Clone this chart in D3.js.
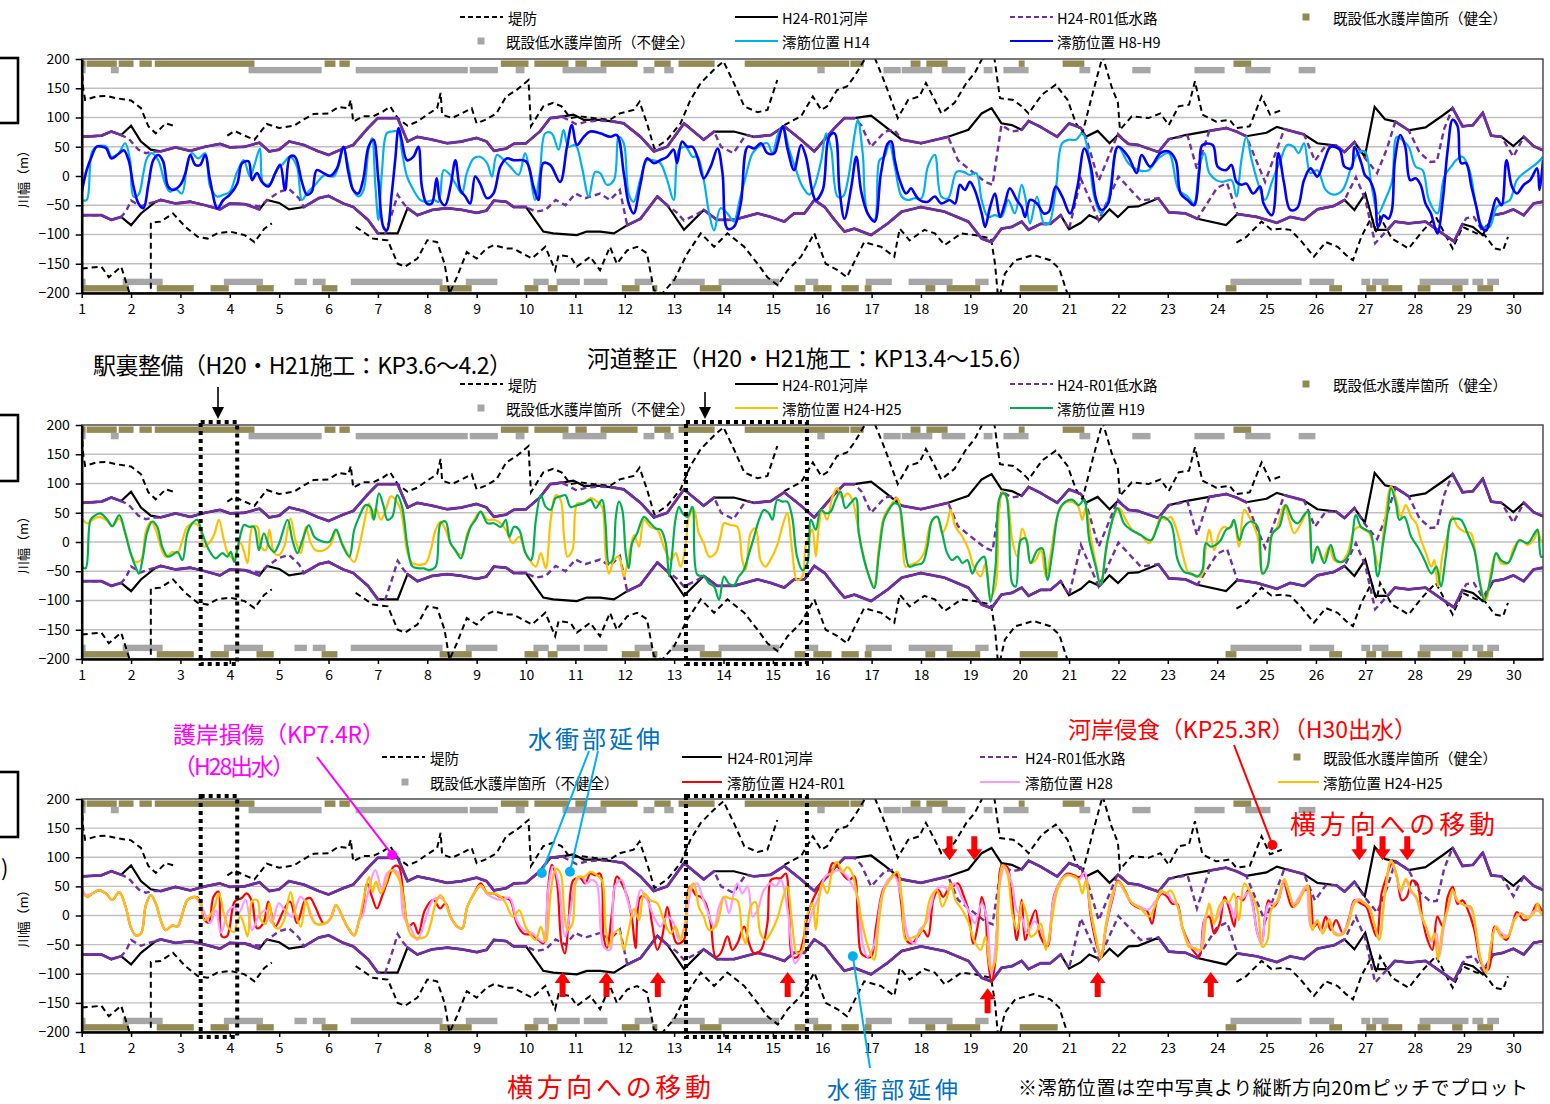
<!DOCTYPE html>
<html>
<head>
<meta charset="utf-8">
<script src="https://cdn.jsdelivr.net/npm/d3@7"></script>
<style>
  body { margin: 0; background: #fff; }
  svg { display: block; }
  text { font-family: "Noto Sans CJK JP", "Noto Sans", sans-serif; }
</style>
</head>
<body>
<svg id="chart" width="1550" height="1104"></svg>
<script>
// ---- data (KP, metres) ----
const kpTicks = d3.range(1, 31);
const widthTicks = d3.range(-200, 201, 50);

const leveeUpper = [[1.0,190],[1.03,150],[1.07,130],[1.3,136],[1.5,137],[1.7,133],[2.0,129],[2.2,116],[2.35,85],[2.5,73],[2.7,90],[2.9,85], null,
  [3.95,69],[4.1,77],[4.3,69],[4.5,62],[4.6,73],[4.75,89],[5.0,82],[5.3,86],[5.5,97],[5.7,106],[6.0,107],[6.2,118],[6.4,116],[6.45,130],[6.5,93],[6.7,102],[6.9,102],[7.1,110],[7.25,119],[7.4,99],[7.6,86],[7.8,93],[8.0,105],[8.2,116],[8.27,142],[8.3,105],[8.5,99],[8.7,107],[8.9,116],[9.0,90],[9.2,97],[9.4,107],[9.6,136],[9.81,147],[10.05,164],[10.1,85],[10.35,119],[10.55,125],[10.72,119],[10.9,99],[11.1,102],[11.37,99],[11.7,96],[11.9,107],[12.18,113],[12.3,127],[12.45,90],[12.6,47],[12.86,62],[13.13,90],[13.33,130],[13.54,159],[13.81,182],[14.0,196],[14.21,159],[14.42,119],[14.69,109],[14.89,113],[15.09,164], null,
  [15.23,87],[15.57,102],[15.81,136],[15.98,113],[16.1,119],[16.3,147],[16.5,153],[16.65,170],[16.9,205],[17.05,205],[17.27,159],[17.53,99],[17.74,130],[17.97,136],[18.1,159],[18.28,130],[18.41,107],[18.68,125],[18.92,159],[19.09,176],[19.23,199],[19.35,230],[19.49,200],[19.6,133],[19.87,130],[20.04,119],[20.18,107],[20.45,139],[20.73,156],[20.97,130],[21.14,90],[21.27,73],[21.48,142],[21.68,205],[21.86,153],[21.99,125],[22.03,79],[22.27,102],[22.61,99],[22.85,107],[23.02,87],[23.22,119],[23.43,122],[23.55,162],[23.7,105],[23.98,93],[24.25,96],[24.39,82],[24.66,85],[24.9,136],[25.07,105],[25.31,113]];

const leveeLower = [[1.0,-158],[1.4,-155],[1.55,-173],[1.8,-155],[1.95,-195],[2.0,-210], null,
  [2.4,-210],[2.4,-80],[2.6,-78],[2.85,-64],[3.1,-87],[3.35,-104],[3.55,-107],[3.75,-98],[4.0,-95],[4.3,-101],[4.5,-113],[4.7,-90],[4.85,-81], null,
  [6.55,-87],[6.9,-107],[7.2,-110],[7.4,-150],[7.55,-155],[7.8,-141],[8.0,-110],[8.2,-113],[8.35,-150],[8.45,-201],[8.6,-173],[8.8,-130],[9.0,-141],[9.2,-124],[9.35,-118],[9.6,-124],[9.74,-124],[10.12,-141],[10.39,-121],[10.59,-161],[10.66,-135],[10.9,-138],[11.03,-155],[11.3,-138],[11.5,-161],[11.7,-121],[11.84,-150],[12.05,-127],[12.25,-121],[12.45,-132],[12.59,-195],[12.76,-201],[13.0,-178],[13.27,-132],[13.54,-98],[13.81,-121],[14.08,-98],[14.42,-121],[14.69,-150],[14.89,-173],[15.1,-187],[15.3,-161],[15.57,-138],[15.84,-98],[16.07,-150],[16.31,-161],[16.5,-173],[16.7,-138],[16.85,-113],[17.19,-121],[17.46,-138],[17.57,-90],[17.77,-110],[18.07,-92],[18.28,-98],[18.48,-118],[18.82,-98],[19.09,-101],[19.42,-107],[19.5,-150],[19.57,-215],[19.7,-167],[19.91,-144],[20.04,-141],[20.28,-135],[20.62,-144],[20.8,-158],[21.0,-210], null,
  [24.39,-114],[24.59,-104],[24.9,-78],[25.1,-92],[25.31,-90],[25.48,-92],[25.69,-110],[25.96,-138],[26.2,-113],[26.44,-121],[26.61,-135],[26.75,-144],[26.92,-104],[27.13,-70],[27.23,-98],[27.3,-70],[27.54,-107],[27.88,-124],[28.15,-95],[28.43,-70],[28.77,-124],[28.97,-87],[29.25,-98],[29.42,-101],[29.62,-124],[29.79,-127],[29.89,-104]];

const bankUpper = [[1.0,67],[1.4,69],[1.6,76],[1.8,70],[2.0,86],[2.2,59],[2.4,45],[2.6,42],[2.9,49],[3.2,43],[3.5,50],[3.8,55],[4.0,49],[4.3,50],[4.6,57],[4.8,42],[5.0,45],[5.2,59],[5.5,53],[5.8,42],[6.0,36],[6.3,47],[6.5,53],[6.8,82],[7.0,99],[7.4,99],[7.6,59],[7.8,67],[8.1,62],[8.4,56],[8.7,59],[9.0,65],[9.2,59],[9.35,43],[9.6,47],[9.75,55],[10.0,56],[10.28,76],[10.49,99],[10.76,102],[10.96,105],[11.17,96],[11.5,96],[11.78,93],[11.98,90],[12.32,67],[12.59,42],[12.86,50],[13.2,90],[13.6,62],[13.81,76],[14.21,76],[14.62,67],[14.96,70],[15.23,85],[15.57,62],[15.84,42],[16.25,82],[16.45,99],[16.65,99],[16.99,103],[17.27,85],[17.61,62],[18.0,56],[18.55,67],[18.96,79],[19.23,107],[19.43,116],[19.63,90],[19.84,87],[20.04,79],[20.18,94],[20.42,84],[20.76,67],[21.0,90],[21.24,82],[21.34,67],[21.58,77],[21.82,56],[21.99,70],[22.2,55],[22.4,53],[22.81,41],[23.02,63],[23.36,70],[23.84,77],[24.18,82],[24.39,76],[24.59,68],[25.0,74],[25.21,84],[25.41,79],[25.76,71],[26.03,56],[26.41,52],[26.58,41],[26.78,58],[26.99,33],[27.19,118],[27.4,97],[27.61,93],[27.88,78],[28.22,83],[28.56,103],[28.77,116],[28.97,85],[29.18,87],[29.38,108],[29.55,69],[29.76,67],[30.0,51],[30.21,67],[30.41,51],[30.6,44]];

const bankLower = [[1.0,-67],[1.4,-67],[1.6,-75],[1.8,-70],[2.0,-84],[2.2,-64],[2.5,-44],[2.6,-41],[2.9,-47],[3.2,-44],[3.5,-50],[3.8,-57],[4.0,-47],[4.3,-48],[4.6,-57],[4.75,-41],[5.0,-46],[5.2,-57],[5.5,-53],[5.8,-38],[6.0,-34],[6.3,-47],[6.5,-53],[6.8,-75],[7.0,-98],[7.4,-98],[7.6,-55],[7.8,-67],[8.1,-58],[8.4,-55],[8.7,-58],[9.0,-63],[9.2,-59],[9.35,-42],[9.6,-44],[9.75,-53],[10.0,-53],[10.35,-95],[10.55,-98],[11.03,-101],[11.23,-95],[11.5,-95],[11.78,-98],[12.05,-84],[12.32,-73],[12.66,-35],[12.86,-50],[13.2,-92],[13.6,-58],[13.87,-75],[14.21,-75],[14.69,-64],[14.96,-70],[15.23,-78],[15.43,-64],[15.64,-64],[15.84,-41],[16.05,-53],[16.25,-75],[16.45,-95],[16.65,-90],[16.99,-101],[17.33,-81],[17.61,-61],[18.0,-53],[18.48,-61],[18.96,-78],[19.23,-107],[19.43,-113],[19.63,-90],[19.84,-87],[20.04,-78],[20.18,-92],[20.42,-82],[20.62,-82],[20.83,-67],[21.0,-91],[21.24,-80],[21.41,-67],[21.62,-75],[21.82,-57],[21.99,-70],[22.2,-53],[22.4,-52],[22.81,-38],[23.02,-62],[23.36,-64],[23.6,-73],[24.18,-84],[24.41,-65],[24.8,-70],[25.21,-80],[25.48,-70],[25.76,-75],[26.03,-57],[26.37,-51],[26.58,-41],[26.78,-58],[27.0,-30],[27.2,-92],[27.45,-92],[27.6,-78],[27.88,-81],[28.22,-78],[28.56,-98],[28.8,-112],[28.97,-82],[29.18,-87],[29.38,-101],[29.59,-67],[29.79,-64],[30.0,-57],[30.21,-67],[30.41,-47],[30.6,-44]];

// low-water channel: same as bank except these stretches
const lowUpperStretches = [
  [[1.8,70],[1.95,64],[2.15,45],[2.3,39],[2.45,42],[2.6,42]],
  [[10.76,100],[11.03,88],[11.23,93],[11.5,95],[11.78,93]],
  [[13.81,76],[13.95,50],[14.2,39],[14.45,70],[14.62,67]],
  [[16.65,99],[16.79,87],[16.99,50],[17.27,76],[17.46,79],[17.61,62]],
  [[18.55,67],[18.75,27],[19.0,10],[19.3,-10],[19.45,-15],[19.63,87],[19.84,76],[20.04,79]],
  [[21.24,82],[21.34,67],[21.6,-8],[21.99,72]],
  [[23.02,63],[23.4,69],[23.59,12],[23.84,77]],
  [[24.59,68],[24.97,-10],[25.36,80],[25.41,79]],
  [[25.76,71],[25.98,26],[26.2,52],[26.41,52]],
  [[26.78,58],[27.0,30],[27.24,5],[27.44,47],[27.61,93]],
  [[27.88,78],[28.1,40],[28.32,24],[28.45,25],[28.6,81],[28.77,116]],
  [[29.76,67],[30.0,33],[30.21,67]]
];
const lowLowerStretches = [
  [[1.8,-70],[1.9,-60],[2.0,-42],[2.2,-52],[2.4,-46],[2.5,-44]],
  [[4.6,-52],[4.75,-42],[5.0,-27],[5.2,-22],[5.4,-38],[5.5,-53]],
  [[7.0,-98],[7.15,-98],[7.3,-60],[7.4,-32],[7.5,-45],[7.6,-55]],
  [[10.0,-53],[10.2,-61],[10.4,-58],[10.6,-41],[10.8,-50],[11.0,-30],[11.2,-38],[11.5,-30],[11.7,-41],[11.9,-24],[12.05,-84]],
  [[12.86,-50],[13.05,-62],[13.2,-76],[13.45,-66],[13.6,-58]],
  [[20.83,-67],[21.0,-91],[21.24,-5],[21.6,-76],[22.0,-1],[22.45,-42],[22.81,-38]],
  [[23.6,-73],[24.0,-20],[24.2,-12],[24.41,-65]],
  [[26.58,-41],[26.81,-2],[27.0,-40],[27.2,-115],[27.45,-92]],
  [[28.97,-82],[29.05,-72],[29.2,-70],[29.38,-95],[29.59,-67]]
];

// existing low-water revetments, [from KP, to KP]
const healthyTop = [[1.0,1.08],[1.1,1.71],[1.75,2.05],[2.17,2.42],[2.48,4.5],[5.92,6.14],[6.22,6.43],[9.49,10.05],[10.17,10.86],[11.0,11.23],[11.51,12.26],[12.6,12.93],[13.09,13.82],[14.43,16.55],[16.57,16.84],[17.79,17.99],[18.11,18.54],[19.98,20.1],[20.87,21.31],[24.33,24.69]];
const damagedTop = [[1.0,1.08],[1.59,1.75],[4.38,5.86],[6.55,8.82],[8.86,9.43],[9.79,9.97],[10.74,11.63],[12.38,12.6],[12.8,12.99],[15.9,16.05],[17.24,17.59],[17.61,18.23],[18.42,18.9],[19.27,19.45],[19.67,20.18],[21.21,21.43],[22.28,22.65],[23.54,24.15],[24.57,25.08],[25.65,25.99]];
const damagedBottom = [[1.0,1.08],[1.83,2.64],[3.88,4.67],[5.31,5.56],[5.68,5.94],[6.45,8.31],[8.78,9.42],[10.15,10.46],[10.62,11.09],[11.17,11.65],[12.2,12.56],[12.95,13.62],[13.9,15.13],[15.66,15.92],[16.88,17.41],[17.75,18.64],[19.1,19.37],[24.27,25.71],[25.87,26.37],[26.92,27.1],[27.14,27.47],[28.1,29.09],[29.17,29.39],[29.47,29.71]];
const healthyBottom = [[1.0,1.95],[2.52,3.27],[3.61,3.98],[4.54,4.89],[5.86,6.18],[8.25,8.9],[9.97,10.25],[10.44,10.64],[11.94,12.3],[12.56,12.66],[13.52,13.96],[15.44,15.66],[15.82,16.19],[16.39,16.74],[16.86,17.0],[18.09,18.29],[18.52,19.2],[20.0,20.77],[24.17,24.39],[26.27,26.53],[27.02,27.22],[27.33,27.75],[28.06,28.32],[28.76,28.97],[29.27,29.59]];
const revetmentLevel = { healthyTop: 192, damagedTop: 181, damagedBottom: -181, healthyBottom: -192 };

// thalweg positions
const thalwegH8H9 = [[1.0,-28],[1.1,10],[1.2,33],[1.3,50],[1.4,50],[1.5,47],[1.6,30],[1.75,38],[1.85,44],[1.95,27],[2.05,-18],[2.15,-47],[2.25,-55],[2.35,-15],[2.45,27],[2.55,36],[2.65,25],[2.75,-18],[2.85,-24],[3.0,-15],[3.1,5],[3.2,36],[3.3,19],[3.4,19],[3.5,36],[3.6,-7],[3.75,-55],[3.87,-41],[4.0,-32],[4.15,-13],[4.25,22],[4.38,25],[4.45,-7],[4.55,5],[4.65,-10],[4.78,-18],[4.92,5],[5.02,19],[5.12,-24],[5.22,33],[5.32,33],[5.46,-10],[5.56,-32],[5.66,-27],[5.76,10],[5.9,5],[6.03,0],[6.17,13],[6.3,50],[6.4,7],[6.5,-24],[6.6,-30],[6.7,-7],[6.81,50],[6.91,62],[7.01,-7],[7.11,-87],[7.18,-93],[7.28,-30],[7.35,27],[7.42,82],[7.48,62],[7.59,27],[7.72,33],[7.82,50],[7.89,-18],[7.99,-47],[8.09,-47],[8.19,-4],[8.26,-41],[8.36,-50],[8.47,-18],[8.57,27],[8.67,-24],[8.77,-35],[8.87,-47],[8.97,-1],[9.07,-13],[9.21,-38],[9.34,-30],[9.48,16],[9.61,30],[9.75,27],[10.0,25],[10.15,-18],[10.25,-41],[10.35,22],[10.49,19],[10.69,-10],[10.83,50],[10.93,87],[11.03,53],[11.17,67],[11.3,76],[11.5,73],[11.71,67],[11.84,70],[11.98,5],[12.08,-47],[12.18,-64],[12.32,-13],[12.45,30],[12.59,22],[12.72,27],[12.86,33],[12.99,45],[13.06,22],[13.16,59],[13.27,50],[13.37,50],[13.47,33],[13.6,-4],[13.74,16],[13.88,47],[13.98,5],[14.08,-90],[14.21,-87],[14.35,-47],[14.49,50],[14.62,47],[14.76,56],[14.89,39],[15.03,39],[15.1,56],[15.2,85],[15.3,45],[15.43,10],[15.57,53],[15.67,33],[15.81,-30],[15.87,-41],[16.01,-24],[16.14,67],[16.25,73],[16.35,-24],[16.45,-73],[16.59,-18],[16.69,33],[16.79,-27],[16.92,-64],[17.06,-78],[17.19,5],[17.33,56],[17.4,59],[17.47,27],[17.57,-7],[17.7,-30],[17.8,-21],[17.87,-30],[17.97,-41],[18.14,-44],[18.28,-35],[18.41,-47],[18.58,-41],[18.69,-47],[18.79,-15],[18.89,-24],[18.99,-10],[19.09,-24],[19.23,-64],[19.3,-87],[19.4,-53],[19.5,-30],[19.6,-70],[19.7,-47],[19.8,-21],[19.94,-41],[20.04,-53],[20.11,-70],[20.21,-41],[20.35,-47],[20.49,-64],[20.59,-61],[20.73,-18],[20.86,-35],[21.02,-64],[21.17,-18],[21.31,47],[21.44,16],[21.55,-41],[21.65,-58],[21.79,-47],[21.99,50],[22.2,33],[22.37,5],[22.47,36],[22.64,16],[22.85,39],[23.02,42],[23.16,27],[23.26,-30],[23.4,-41],[23.53,-50],[23.64,10],[23.7,53],[23.91,53],[24.01,16],[24.18,10],[24.29,19],[24.39,-10],[24.49,-15],[24.59,-13],[24.73,-30],[24.87,-18],[24.94,-47],[25.11,-67],[25.24,39],[25.35,-10],[25.48,-58],[25.62,-55],[25.76,-7],[25.89,13],[26.03,-1],[26.17,27],[26.3,50],[26.48,45],[26.58,16],[26.72,13],[26.78,50],[26.92,22],[26.99,2],[27.09,-7],[27.19,-30],[27.26,-87],[27.37,-67],[27.47,-73],[27.54,-58],[27.6,27],[27.71,70],[27.81,50],[27.91,-7],[28.02,-4],[28.12,-15],[28.22,-47],[28.33,-64],[28.46,-98],[28.57,-41],[28.67,45],[28.77,96],[28.87,85],[28.94,22],[29.04,22],[29.15,-18],[29.25,-53],[29.35,-87],[29.45,-93],[29.56,-64],[29.66,-38],[29.76,-50],[29.86,27],[29.97,-18],[30.07,-30],[30.21,-15],[30.34,-7],[30.48,13],[30.53,-24],[30.6,27]];

const thalwegH14 = [[1.0,-41],[1.1,-41],[1.2,39],[1.3,50],[1.5,50],[1.6,33],[1.74,38],[1.88,56],[1.98,27],[2.05,-35],[2.15,-32],[2.25,5],[2.32,30],[2.42,39],[2.55,27],[2.69,-13],[2.79,-27],[2.89,-21],[3.03,-30],[3.13,16],[3.23,39],[3.36,30],[3.5,39],[3.6,-18],[3.74,-35],[3.87,-32],[4.0,-27],[4.14,5],[4.28,27],[4.41,-1],[4.51,22],[4.61,47],[4.68,-13],[4.82,-13],[4.95,10],[5.09,22],[5.22,33],[5.36,16],[5.46,-41],[5.56,-30],[5.73,-15],[5.93,2],[6.1,-1],[6.2,16],[6.3,47],[6.41,13],[6.5,-24],[6.61,-35],[6.71,-24],[6.81,45],[6.88,65],[6.95,-18],[7.01,-75],[7.08,5],[7.18,73],[7.28,76],[7.42,76],[7.48,45],[7.59,-1],[7.72,-24],[7.86,-41],[7.99,-44],[8.13,-41],[8.23,-44],[8.33,10],[8.43,5],[8.57,-13],[8.7,-30],[8.8,5],[8.94,30],[9.07,33],[9.21,22],[9.31,-1],[9.41,36],[9.55,27],[9.68,16],[9.85,2],[9.98,39],[10.08,5],[10.18,-41],[10.28,5],[10.39,73],[10.52,73],[10.66,45],[10.76,79],[10.86,50],[11.0,53],[11.13,16],[11.27,-35],[11.4,7],[11.5,5],[11.64,-15],[11.78,-7],[11.88,67],[11.98,56],[12.08,-30],[12.18,-44],[12.32,-4],[12.45,27],[12.59,27],[12.72,22],[12.86,-7],[12.99,-41],[13.1,45],[13.23,50],[13.37,33],[13.47,33],[13.6,-7],[13.71,-64],[13.81,-93],[13.94,-55],[14.08,-64],[14.21,-78],[14.32,-44],[14.45,-1],[14.59,39],[14.76,53],[14.89,56],[14.99,39],[15.1,70],[15.2,85],[15.33,45],[15.47,10],[15.6,-18],[15.74,-32],[15.84,-18],[15.98,27],[16.08,73],[16.18,47],[16.31,-35],[16.42,-35],[16.52,-7],[16.66,73],[16.72,96],[16.82,39],[16.92,-64],[17.06,-75],[17.16,27],[17.26,33],[17.36,56],[17.47,16],[17.61,-35],[17.74,-41],[17.87,-38],[18.01,-38],[18.14,16],[18.28,36],[18.41,-35],[18.55,-38],[18.72,7],[18.86,7],[18.99,2],[19.12,5],[19.23,-41],[19.36,-70],[19.5,-67],[19.63,-70],[19.77,-41],[19.9,-64],[20.04,-15],[20.11,-35],[20.21,-81],[20.35,-35],[20.49,-81],[20.59,-81],[20.73,-24],[20.86,56],[21.0,62],[21.14,62],[21.27,73],[21.38,45],[21.51,-35],[21.65,-64],[21.79,-41],[21.99,50],[22.2,22],[22.4,10],[22.61,10],[22.81,30],[23.02,39],[23.22,-24],[23.4,-35],[23.53,-47],[23.64,16],[23.74,39],[23.84,5],[23.98,-7],[24.11,-10],[24.29,-7],[24.39,-35],[24.49,27],[24.59,67],[24.7,27],[24.83,-13],[24.97,-41],[25.11,-10],[25.28,27],[25.42,53],[25.55,50],[25.65,39],[25.76,56],[25.89,5],[26.03,10],[26.2,-24],[26.37,-32],[26.54,-24],[26.72,16],[26.85,39],[26.99,42],[27.13,-18],[27.26,-64],[27.4,-41],[27.54,-10],[27.64,67],[27.78,59],[27.88,50],[28.02,16],[28.16,10],[28.29,-41],[28.46,-64],[28.6,-1],[28.74,16],[28.84,27],[28.97,33],[29.11,10],[29.25,-53],[29.38,-87],[29.52,-87],[29.66,-53],[29.8,-47],[29.93,-41],[30.07,-7],[30.21,5],[30.34,13],[30.48,22],[30.6,33]];

const thalwegH2425 = [[1.0,40],[1.12,32],[1.22,38],[1.35,43],[1.49,38],[1.62,27],[1.76,40],[1.89,15],[1.99,-19],[2.09,-34],[2.2,-31],[2.3,18],[2.4,35],[2.5,21],[2.6,-8],[2.7,-25],[2.84,-17],[2.94,-19],[3.04,3],[3.14,26],[3.28,32],[3.38,26],[3.48,-8],[3.58,-2],[3.68,12],[3.78,38],[3.88,3],[3.98,-22],[4.09,-28],[4.15,-11],[4.22,-2],[4.29,-17],[4.36,-36],[4.46,26],[4.56,26],[4.63,-8],[4.73,-14],[4.8,21],[4.9,-19],[5.0,-22],[5.1,-8],[5.23,40],[5.33,3],[5.44,-19],[5.54,26],[5.64,-2],[5.74,-14],[5.91,-14],[6.04,-5],[6.15,18],[6.28,-2],[6.38,-19],[6.52,-34],[6.62,-8],[6.72,32],[6.82,66],[6.89,40],[6.96,58],[7.06,38],[7.16,55],[7.26,78],[7.36,72],[7.46,55],[7.53,21],[7.6,-19],[7.7,-36],[7.83,-39],[7.97,-36],[8.07,-14],[8.17,21],[8.27,35],[8.37,21],[8.47,-2],[8.61,-19],[8.71,-22],[8.81,15],[8.95,38],[9.08,52],[9.22,38],[9.35,38],[9.49,32],[9.59,21],[9.73,-2],[9.86,9],[9.99,-19],[10.1,-34],[10.2,-42],[10.3,-19],[10.4,-45],[10.5,38],[10.6,80],[10.7,72],[10.77,9],[10.84,-25],[10.94,-14],[11.04,66],[11.17,66],[11.31,75],[11.44,69],[11.54,60],[11.61,-19],[11.68,-54],[11.78,-31],[11.88,-25],[11.98,-59],[12.08,-25],[12.19,12],[12.29,-8],[12.39,38],[12.52,26],[12.66,21],[12.79,-8],[12.93,-31],[13.03,-19],[13.13,-42],[13.23,-8],[13.3,43],[13.4,55],[13.5,15],[13.6,-2],[13.71,-25],[13.84,-19],[13.94,9],[14.01,32],[14.14,29],[14.28,26],[14.38,-31],[14.45,-48],[14.55,15],[14.65,23],[14.75,-31],[14.85,-42],[14.95,-31],[15.09,-5],[15.19,26],[15.29,49],[15.39,-14],[15.49,-65],[15.6,-59],[15.66,-8],[15.73,9],[15.8,21],[15.87,-25],[15.93,26],[16.0,55],[16.1,38],[16.2,75],[16.3,92],[16.41,75],[16.51,83],[16.61,72],[16.71,32],[16.81,-14],[16.95,-59],[17.05,-76],[17.15,-8],[17.25,43],[17.39,63],[17.52,75],[17.62,21],[17.69,-42],[17.79,-39],[17.93,-34],[18.06,-19],[18.2,32],[18.33,43],[18.43,15],[18.53,32],[18.6,55],[18.7,26],[18.84,9],[18.97,-14],[19.07,-42],[19.21,-59],[19.31,-36],[19.41,-93],[19.51,-76],[19.58,49],[19.65,86],[19.75,72],[19.85,3],[19.95,-25],[20.05,23],[20.15,-2],[20.22,-36],[20.32,-31],[20.43,-14],[20.53,-59],[20.63,-19],[20.76,43],[20.9,66],[21.03,69],[21.17,63],[21.27,38],[21.34,60],[21.44,9],[21.54,-36],[21.64,-74],[21.74,-19],[21.88,38],[22.01,58],[22.15,38],[22.28,21],[22.45,12],[22.62,-2],[22.76,21],[22.86,43],[22.96,38],[23.06,43],[23.2,15],[23.33,-31],[23.43,-54],[23.53,-56],[23.67,-59],[23.77,-8],[23.84,21],[23.94,-14],[24.04,15],[24.14,26],[24.24,23],[24.34,38],[24.44,-8],[24.55,55],[24.68,38],[24.82,9],[24.92,-54],[25.02,-42],[25.09,9],[25.22,26],[25.36,63],[25.46,38],[25.56,15],[25.7,32],[25.83,52],[25.93,-25],[26.03,-8],[26.14,-31],[26.27,-8],[26.37,-31],[26.51,-34],[26.64,-19],[26.78,21],[26.88,26],[26.98,21],[27.08,15],[27.18,-14],[27.28,-42],[27.39,32],[27.52,95],[27.62,75],[27.72,43],[27.82,63],[27.93,43],[28.03,32],[28.13,3],[28.23,-19],[28.34,-42],[28.4,-31],[28.47,-76],[28.57,-19],[28.66,9],[28.77,43],[28.87,26],[29.0,18],[29.14,15],[29.24,-25],[29.34,-76],[29.45,-99],[29.55,-48],[29.65,-19],[29.75,-36],[29.89,-36],[30.02,-8],[30.16,3],[30.29,-5],[30.43,6],[30.49,21],[30.56,3],[30.6,3]];

const thalwegH19 = [[1.0,-42],[1.08,-45],[1.18,38],[1.28,46],[1.38,49],[1.52,38],[1.62,27],[1.76,46],[1.89,12],[1.99,-19],[2.09,-42],[2.16,-54],[2.23,-31],[2.33,18],[2.43,35],[2.53,26],[2.63,-8],[2.74,-25],[2.84,-22],[2.94,-17],[3.04,-31],[3.14,15],[3.24,32],[3.34,38],[3.44,15],[3.58,-14],[3.71,-28],[3.85,-19],[3.95,-25],[4.02,-17],[4.09,-34],[4.19,3],[4.29,29],[4.39,26],[4.49,26],[4.59,-14],[4.69,15],[4.8,-8],[4.9,-17],[5.0,-2],[5.17,38],[5.27,3],[5.37,-19],[5.47,3],[5.6,29],[5.71,9],[5.81,3],[6.01,0],[6.15,21],[6.28,-5],[6.42,-25],[6.52,21],[6.62,43],[6.75,63],[6.85,60],[6.92,38],[7.02,83],[7.12,60],[7.19,38],[7.29,43],[7.39,80],[7.49,60],[7.6,-8],[7.7,-42],[7.83,-45],[7.93,-45],[8.04,-48],[8.17,-42],[8.27,32],[8.37,35],[8.47,-2],[8.57,-14],[8.68,-28],[8.78,0],[8.88,26],[8.98,38],[9.08,52],[9.22,32],[9.35,32],[9.49,26],[9.59,38],[9.66,9],[9.76,26],[9.86,21],[9.99,-19],[10.1,-31],[10.2,38],[10.3,80],[10.4,60],[10.5,55],[10.6,75],[10.7,78],[10.8,80],[10.9,60],[11.04,63],[11.17,66],[11.31,72],[11.41,58],[11.54,72],[11.61,32],[11.68,-36],[11.75,-31],[11.82,43],[11.88,69],[11.95,55],[12.02,-19],[12.08,-45],[12.15,-2],[12.25,15],[12.39,43],[12.49,35],[12.63,23],[12.73,21],[12.83,-2],[12.9,-59],[12.96,-19],[13.03,40],[13.1,60],[13.17,49],[13.27,43],[13.37,60],[13.47,-56],[13.61,-59],[13.71,-71],[13.81,-76],[13.91,-99],[14.01,-59],[14.11,-71],[14.21,-74],[14.31,-59],[14.41,-48],[14.52,-19],[14.62,9],[14.72,38],[14.82,55],[14.92,49],[14.99,38],[15.09,72],[15.19,69],[15.29,69],[15.39,43],[15.49,-25],[15.6,-48],[15.7,-36],[15.77,38],[15.87,21],[15.97,55],[16.07,49],[16.17,52],[16.27,72],[16.37,86],[16.47,58],[16.57,66],[16.68,75],[16.74,15],[16.85,-31],[16.95,-59],[17.05,-79],[17.15,-19],[17.25,38],[17.35,55],[17.45,66],[17.55,63],[17.66,3],[17.76,-42],[17.89,-39],[18.03,-36],[18.13,-8],[18.23,38],[18.33,43],[18.43,15],[18.53,-19],[18.63,-31],[18.74,-25],[18.84,-36],[18.94,-31],[19.04,-54],[19.14,-36],[19.28,-25],[19.34,-54],[19.41,-102],[19.51,-42],[19.58,72],[19.65,83],[19.72,80],[19.78,38],[19.85,-71],[19.92,-76],[20.02,3],[20.12,6],[20.22,-36],[20.36,-14],[20.46,-11],[20.56,-65],[20.66,-19],[20.8,55],[20.93,69],[21.07,72],[21.2,63],[21.3,72],[21.41,3],[21.54,-42],[21.64,-74],[21.78,3],[21.98,58],[22.11,32],[22.25,21],[22.45,12],[22.66,3],[22.79,26],[22.89,43],[23.06,32],[23.2,-31],[23.33,-51],[23.47,-54],[23.6,-59],[23.7,-48],[23.77,-2],[23.87,-8],[23.97,-5],[24.07,3],[24.18,21],[24.28,26],[24.34,38],[24.45,3],[24.55,26],[24.68,35],[24.82,26],[24.92,-54],[25.02,-42],[25.12,15],[25.26,26],[25.39,63],[25.53,38],[25.63,32],[25.83,52],[25.93,-36],[26.03,-8],[26.17,-36],[26.3,-5],[26.41,-31],[26.54,-34],[26.68,-19],[26.81,46],[26.91,26],[27.01,21],[27.11,15],[27.25,-59],[27.35,-8],[27.45,49],[27.52,92],[27.62,66],[27.69,38],[27.79,43],[27.93,9],[28.06,-8],[28.2,-31],[28.34,-54],[28.44,-42],[28.53,-76],[28.64,-19],[28.74,38],[28.84,40],[28.94,38],[29.07,15],[29.21,-14],[29.31,-65],[29.41,-99],[29.55,-59],[29.65,-19],[29.75,-31],[29.89,-36],[30.02,-14],[30.12,3],[30.29,-2],[30.43,15],[30.49,21],[30.56,-25],[30.6,-25]];

const thalwegH24R01 = [[1.0,-12],[1.03,38],[1.12,32],[1.22,38],[1.35,43],[1.49,38],[1.62,27],[1.76,40],[1.89,15],[1.99,-19],[2.09,-34],[2.2,-31],[2.3,18],[2.4,35],[2.5,21],[2.6,-8],[2.7,-25],[2.84,-17],[2.94,-19],[3.04,3],[3.14,26],[3.28,32],[3.36,30],[3.42,20],[3.47,-5],[3.57,-12],[3.67,32],[3.77,41],[3.84,-36],[3.94,-36],[4.0,-19],[4.1,24],[4.24,30],[4.34,38],[4.45,24],[4.55,-22],[4.68,-13],[4.78,24],[4.92,-19],[5.09,9],[5.22,24],[5.36,-13],[5.53,27],[5.63,30],[5.73,15],[5.91,-14],[6.04,-5],[6.15,18],[6.28,-2],[6.38,-19],[6.52,-34],[6.62,-8],[6.68,4],[6.78,55],[6.88,32],[6.98,12],[7.08,32],[7.18,55],[7.32,84],[7.42,84],[7.52,32],[7.62,-19],[7.72,-13],[7.82,-31],[7.95,9],[8.12,27],[8.26,12],[8.37,21],[8.47,-2],[8.61,-19],[8.71,-22],[8.81,15],[8.95,38],[9.08,55],[9.22,38],[9.35,38],[9.47,32],[9.67,27],[9.81,-13],[9.95,-31],[10.12,-33],[10.25,-42],[10.35,-48],[10.45,50],[10.52,87],[10.62,61],[10.72,-48],[10.79,-65],[10.86,-13],[10.96,61],[11.1,64],[11.2,55],[11.3,72],[11.4,69],[11.5,72],[11.57,-36],[11.64,-56],[11.74,4],[11.84,67],[11.94,55],[12.05,32],[12.15,-8],[12.22,-56],[12.32,32],[12.45,30],[12.55,-13],[12.66,-59],[12.76,-36],[12.86,15],[12.96,-25],[13.06,-48],[13.2,-42],[13.27,38],[13.33,50],[13.44,35],[13.54,32],[13.64,21],[13.74,-13],[13.84,-71],[13.94,-65],[14.08,-36],[14.18,-59],[14.28,-48],[14.42,-19],[14.52,-48],[14.62,-65],[14.76,-59],[14.89,-13],[14.96,61],[15.06,64],[15.16,64],[15.26,72],[15.33,9],[15.4,-71],[15.5,-71],[15.6,-48],[15.7,-2],[15.81,27],[15.91,44],[16.01,61],[16.11,67],[16.21,90],[16.31,84],[16.45,67],[16.55,61],[16.65,67],[16.72,-8],[16.79,-65],[16.89,-71],[16.99,-71],[17.09,-19],[17.23,44],[17.36,61],[17.47,72],[17.53,61],[17.6,21],[17.7,-42],[17.81,-48],[17.94,-36],[18.04,-25],[18.14,-36],[18.25,27],[18.35,44],[18.45,32],[18.55,44],[18.65,50],[18.75,55],[18.86,35],[18.96,9],[19.06,-48],[19.16,-13],[19.23,32],[19.3,9],[19.36,-76],[19.43,-114],[19.5,-82],[19.57,32],[19.63,84],[19.74,84],[19.84,32],[19.94,-42],[20.04,27],[20.11,-42],[20.21,-14],[20.32,9],[20.42,-36],[20.56,-53],[20.69,32],[20.83,60],[20.97,72],[21.1,69],[21.21,66],[21.31,72],[21.44,-2],[21.55,-48],[21.65,-70],[21.75,-19],[21.89,32],[21.99,60],[22.13,43],[22.27,20],[22.44,12],[22.57,9],[22.68,-14],[22.78,26],[22.88,38],[22.99,32],[23.09,20],[23.19,20],[23.29,-19],[23.4,-42],[23.5,-59],[23.64,-70],[23.74,-8],[23.84,-2],[23.94,-31],[24.05,-14],[24.15,32],[24.25,9],[24.35,-19],[24.42,32],[24.52,26],[24.63,43],[24.73,15],[24.8,-25],[24.9,-48],[24.97,-2],[25.04,26],[25.14,15],[25.24,26],[25.35,60],[25.42,38],[25.52,15],[25.62,20],[25.76,43],[25.86,43],[25.96,-19],[26.03,-14],[26.1,-25],[26.2,-2],[26.3,-25],[26.41,-8],[26.55,-31],[26.68,-2],[26.78,26],[26.92,20],[27.02,15],[27.13,-14],[27.23,-36],[27.33,38],[27.43,66],[27.54,89],[27.64,66],[27.74,26],[27.84,32],[27.95,60],[28.05,55],[28.15,-2],[28.26,-42],[28.36,-59],[28.46,-2],[28.57,-19],[28.67,32],[28.77,49],[28.87,20],[28.97,26],[29.08,9],[29.21,-25],[29.35,-82],[29.49,-93],[29.62,-19],[29.73,-31],[29.86,-42],[29.97,-19],[30.07,6],[30.21,-8],[30.34,-2],[30.48,20],[30.6,3]];

const thalwegH28 = [[1.0,50],[1.08,36],[1.22,38],[1.35,43],[1.49,38],[1.62,27],[1.76,40],[1.89,15],[1.99,-19],[2.09,-34],[2.2,-31],[2.3,18],[2.4,35],[2.5,21],[2.6,-8],[2.7,-25],[2.84,-17],[2.94,-19],[3.04,3],[3.14,26],[3.28,32],[3.4,21],[3.6,-13],[3.72,9],[3.82,-30],[3.98,9],[4.08,15],[4.18,4],[4.32,27],[4.45,-25],[4.58,-2],[4.72,9],[4.85,-13],[4.99,21],[5.12,9],[5.26,-2],[5.43,32],[5.56,20],[5.74,-14],[5.91,-14],[6.04,-5],[6.15,18],[6.28,-2],[6.38,-19],[6.52,-34],[6.62,-8],[6.68,-2],[6.78,32],[6.95,78],[7.08,44],[7.18,72],[7.32,78],[7.42,72],[7.52,-2],[7.65,-19],[7.8,-42],[7.95,-10],[8.12,27],[8.27,30],[8.37,21],[8.47,-2],[8.61,-19],[8.71,-22],[8.81,15],[8.95,38],[9.08,50],[9.22,36],[9.35,30],[9.47,27],[9.67,30],[9.81,-8],[9.95,-25],[10.12,-30],[10.25,-40],[10.35,-45],[10.45,45],[10.55,84],[10.66,55],[10.79,-36],[10.9,9],[11.0,55],[11.13,67],[11.23,55],[11.33,61],[11.43,55],[11.57,-53],[11.7,-59],[11.8,50],[11.94,61],[12.04,32],[12.18,-2],[12.32,44],[12.45,27],[12.59,-2],[12.72,-19],[12.86,-2],[12.99,-13],[13.1,-42],[13.23,-13],[13.37,50],[13.47,55],[13.57,32],[13.67,9],[13.81,-19],[13.91,15],[14.01,32],[14.11,4],[14.18,27],[14.28,55],[14.38,38],[14.49,50],[14.59,-2],[14.69,9],[14.82,44],[14.96,55],[15.06,50],[15.16,61],[15.3,9],[15.45,-82],[15.55,-71],[15.65,-42],[15.79,4],[15.93,32],[16.06,67],[16.18,72],[16.31,78],[16.45,72],[16.59,55],[16.72,32],[16.82,-48],[16.92,-71],[17.06,-48],[17.19,27],[17.33,61],[17.47,67],[17.6,32],[17.74,-36],[17.87,-48],[17.97,-25],[18.1,-13],[18.2,15],[18.3,44],[18.44,50],[18.57,44],[18.68,55],[18.82,32],[18.96,9],[19.09,-13],[19.23,21],[19.33,-2],[19.43,-99],[19.53,-36],[19.6,55],[19.7,84],[19.84,55],[19.94,9],[20.04,-2],[20.15,-30],[20.3,-10],[20.45,-30],[20.56,-50],[20.69,30],[20.83,60],[20.97,70],[21.1,66],[21.21,62],[21.31,74],[21.44,5],[21.55,-40],[21.65,-68],[21.75,-19],[21.89,35],[21.99,58],[22.13,40],[22.27,22],[22.44,15],[22.6,10],[22.75,25],[22.88,40],[22.99,38],[23.09,25],[23.19,18],[23.29,-20],[23.4,-45],[23.5,-55],[23.64,-62],[23.74,-8],[23.84,15],[23.94,-10],[24.05,5],[24.15,26],[24.25,20],[24.35,-5],[24.42,30],[24.52,30],[24.63,40],[24.73,12],[24.8,-25],[24.9,-50],[24.97,-5],[25.04,20],[25.14,20],[25.24,26],[25.35,60],[25.45,40],[25.55,20],[25.65,30],[25.8,50],[25.9,-20],[26.03,-10],[26.14,-28],[26.27,-6],[26.37,-28],[26.51,-32],[26.64,-15],[26.78,24],[26.88,28],[26.98,22],[27.08,12],[27.18,-14],[27.28,-40],[27.39,30],[27.52,92],[27.62,72],[27.72,40],[27.82,60],[27.93,40],[28.03,30],[28.13,0],[28.23,-20],[28.34,-45],[28.44,-30],[28.5,-70],[28.6,-15],[28.7,20],[28.77,40],[28.87,25],[29.0,18],[29.14,12],[29.24,-25],[29.34,-76],[29.45,-95],[29.55,-48],[29.65,-19],[29.75,-30],[29.89,-34],[30.02,-6],[30.16,4],[30.29,-4],[30.43,8],[30.6,5]];

// panel-3 markers: [KP, river width at arrow tip]
const upArrows = [[10.74,-97],[11.63,-97],[12.67,-97],[15.3,-97],[19.35,-125],[21.58,-97],[23.87,-97]];
const downArrows = [[18.58,95],[19.08,95],[26.88,95],[27.35,95],[27.85,95]];

// ---- drawing ----
const OLIVE = '#948a54', GREY = '#a6a6a6', PURPLE = '#7030a0';
const svg = d3.select('#chart');
const x = d3.scaleLinear().domain([1, 30.6]).range([81.7, 1543]);

function withStretches(base, stretches) {
  const ranges = stretches.map((s) => [s[0][0], s[s.length - 1][0]]);
  const kept = base.filter((p) => !ranges.some(([a, b]) => p[0] >= a && p[0] <= b));
  return kept.concat(...stretches).sort((a, b) => a[0] - b[0]);
}
function sharedPairs(base, stretches) {
  const ranges = stretches.map((s) => [s[0][0], s[s.length - 1][0]]);
  const pairs = [];
  for (let i = 0; i < base.length - 1; i++) {
    const a = base[i], b = base[i + 1];
    if (ranges.every(([s, e]) => b[0] <= s || a[0] >= e)) pairs.push([a, b]);
  }
  return pairs;
}
const lowUpper = withStretches(bankUpper, lowUpperStretches);
const lowLower = withStretches(bankLower, lowLowerStretches);
const sharedUpper = sharedPairs(bankUpper, lowUpperStretches);
const sharedLower = sharedPairs(bankLower, lowLowerStretches);

const panels = [
  { id: 'p1', top: 59, bottom: 293, legendY: [17, 41], box: [58, 123],
    legendCols: { dash: [460, 503, 508], bank: [735, 778, 782], low: [1010, 1053, 1057], sqA: [1306, 1333], sqB: [481, 506], s1: [735, 778, 782], s2: [1010, 1053, 1057] },
    series: [
      { name: '澪筋位置 H14', data: thalwegH14, color: '#00b0f0', width: 2.2 },
      { name: '澪筋位置 H8-H9', data: thalwegH8H9, color: '#0000ff', width: 2.6 }
    ], legendSeries: [0, 1] },
  { id: 'p2', top: 425, bottom: 659, legendY: [384, 408], box: [415, 481],
    legendCols: { dash: [460, 503, 508], bank: [735, 778, 782], low: [1010, 1053, 1057], sqA: [1306, 1333], sqB: [481, 506], s1: [735, 778, 782], s2: [1010, 1053, 1057] },
    series: [
      { name: '澪筋位置 H24-H25', data: thalwegH2425, color: '#ffc000', width: 2.2 },
      { name: '澪筋位置 H19', data: thalwegH19, color: '#00b050', width: 2.2 }
    ], legendSeries: [0, 1] },
  { id: 'p3', top: 799, bottom: 1032, legendY: [757, 782], box: [772, 837],
    legendCols: { dash: [382, 425, 430], bank: [682, 722, 727], low: [980, 1020, 1025], sqA: [1297, 1323], sqB: [405, 430], s1: [682, 722, 727], s2: [980, 1020, 1025], s3: [1278, 1319, 1323] },
    series: [
      { name: '澪筋位置 H24-R01', data: thalwegH24R01, color: '#ff0000', width: 2.2 },
      { name: '澪筋位置 H28', data: thalwegH28, color: '#ff99ff', width: 2.2 },
      { name: '澪筋位置 H24-H25', data: thalwegH2425, color: '#ffc000', width: 2.2 }
    ], legendSeries: [0, 1, 2] }
];

function drawLegend(p) {
  const g = svg.append('g').attr('font-size', 14.5);
  const [r1, r2] = p.legendY;
  const c = p.legendCols;
  const lineItem = (x1, x2, tx, yy, color, w, dash, label) => {
    g.append('line').attr('x1', x1).attr('x2', x2).attr('y1', yy).attr('y2', yy)
      .attr('stroke', color).attr('stroke-width', w).attr('stroke-dasharray', dash);
    g.append('text').attr('x', tx).attr('y', yy).attr('dominant-baseline', 'central').text(label);
  };
  const squareItem = (cx, tx, yy, color, label) => {
    g.append('rect').attr('x', cx - 3.5).attr('y', yy - 3.5).attr('width', 7).attr('height', 7).attr('fill', color);
    g.append('text').attr('x', tx).attr('y', yy).attr('dominant-baseline', 'central').text(label);
  };
  lineItem(c.dash[0], c.dash[1], c.dash[2], r1, '#000', 2, '5,3', '堤防');
  lineItem(c.bank[0], c.bank[1], c.bank[2], r1, '#000', 2.2, null, 'H24-R01河岸');
  lineItem(c.low[0], c.low[1], c.low[2], r1, PURPLE, 2.2, '5,3', 'H24-R01低水路');
  squareItem(c.sqA[0], c.sqA[1], r1, OLIVE, '既設低水護岸箇所（健全）');
  squareItem(c.sqB[0], c.sqB[1], r2, GREY, '既設低水護岸箇所（不健全）');
  const slots = [c.s1, c.s2, c.s3];
  p.legendSeries.forEach((si, k) => {
    const s = p.series[si];
    lineItem(slots[k][0], slots[k][1], slots[k][2], r2, s.color, 2.2, null, s.name);
  });
}

function drawPanel(p) {
  const y = d3.scaleLinear().domain([-200, 200]).range([p.bottom, p.top]);
  const g = svg.append('g');
  const straight = d3.line().defined((d) => d !== null).x((d) => x(d[0])).y((d) => y(d[1]));
  const smooth = d3.line().x((d) => x(d[0])).y((d) => y(d[1])).curve(d3.curveCatmullRom.alpha(0.5));

  g.append('g').selectAll('line').data(widthTicks.filter((v) => Math.abs(v) < 200)).join('line')
    .attr('x1', x(1)).attr('x2', x(30.6)).attr('y1', (d) => y(d)).attr('y2', (d) => y(d))
    .attr('stroke', '#c0c0c0').attr('stroke-width', 1.3);

  svg.append('clipPath').attr('id', `clip-${p.id}`).append('rect')
    .attr('x', x(1)).attr('y', p.top).attr('width', x(30.6) - x(1)).attr('height', p.bottom - p.top);
  const plot = g.append('g').attr('clip-path', `url(#clip-${p.id})`);

  const bars = [[healthyTop, OLIVE, revetmentLevel.healthyTop], [damagedTop, GREY, revetmentLevel.damagedTop],
    [damagedBottom, GREY, revetmentLevel.damagedBottom], [healthyBottom, OLIVE, revetmentLevel.healthyBottom]];
  bars.forEach(([segs, color, level]) => {
    plot.append('g').selectAll('rect').data(segs).join('rect')
      .attr('x', (d) => x(d[0])).attr('width', (d) => x(d[1]) - x(d[0]))
      .attr('y', y(level) - 3.2).attr('height', 6.4).attr('fill', color);
  });

  [leveeUpper, leveeLower].forEach((data) => {
    plot.append('path').attr('d', straight(data)).attr('fill', 'none')
      .attr('stroke', '#000').attr('stroke-width', 2).attr('stroke-dasharray', '6,4');
  });
  [bankUpper, bankLower].forEach((data) => {
    plot.append('path').attr('d', straight(data)).attr('fill', 'none').attr('stroke', '#000').attr('stroke-width', 2.2);
  });
  [sharedUpper, sharedLower].forEach((pairs) => {
    plot.append('path').attr('d', pairs.map((pr) => straight(pr)).join(''))
      .attr('fill', 'none').attr('stroke', PURPLE).attr('stroke-width', 2.8).attr('stroke-linecap', 'round');
  });
  [lowUpper, lowLower].forEach((data) => {
    plot.append('path').attr('d', straight(data)).attr('fill', 'none')
      .attr('stroke', PURPLE).attr('stroke-width', 2.4).attr('stroke-dasharray', '6,4');
  });

  p.series.forEach((s) => {
    plot.append('path').attr('d', smooth(s.data)).attr('fill', 'none')
      .attr('stroke', s.color).attr('stroke-width', s.width).attr('stroke-linejoin', 'round');
  });

  g.append('rect').attr('x', x(1)).attr('y', p.top).attr('width', x(30.6) - x(1)).attr('height', p.bottom - p.top)
    .attr('fill', 'none').attr('stroke', '#404040').attr('stroke-width', 1.4);

  const xa = g.append('g').attr('transform', `translate(0,${p.bottom})`)
    .call(d3.axisBottom(x).tickValues(kpTicks).tickSize(5).tickSizeOuter(0).tickPadding(6).tickFormat(d3.format('d')));
  xa.select('.domain').attr('stroke', '#000').attr('stroke-width', 2.6);
  xa.selectAll('.tick line').attr('stroke', '#000').attr('stroke-width', 1.5);
  xa.selectAll('text').attr('font-size', 14).attr('fill', '#000');

  const ya = g.append('g').attr('transform', `translate(${x(1)},0)`)
    .call(d3.axisLeft(y).tickValues(widthTicks).tickSize(6).tickSizeOuter(0).tickPadding(6));
  ya.select('.domain').attr('stroke', '#000').attr('stroke-width', 2.6);
  ya.selectAll('.tick line').attr('stroke', '#000').attr('stroke-width', 1.5);
  ya.selectAll('text').attr('font-size', 14).attr('fill', '#000');

  svg.append('text').attr('transform', `translate(22,${(p.top + p.bottom) / 2}) rotate(-90)`)
    .attr('text-anchor', 'middle').attr('dominant-baseline', 'central').attr('font-size', 13).text('川幅（m）');
  svg.append('rect').attr('x', -4).attr('y', p.box[0]).attr('width', 22).attr('height', p.box[1] - p.box[0])
    .attr('fill', 'none').attr('stroke', '#000').attr('stroke-width', 2.6);

  drawLegend(p);
  return y;
}

const yScales = panels.map(drawPanel);

// ---- annotations ----
function label(txt, xx, yy, size, color, len) {
  const t = svg.append('text').attr('x', xx).attr('y', yy).attr('dominant-baseline', 'central')
    .attr('font-size', size).attr('fill', color).text(txt);
  if (len) t.attr('textLength', len);
  return t;
}
function dottedBox(kpA, kpB, top, bottom) {
  svg.append('rect').attr('x', x(kpA)).attr('y', top).attr('width', x(kpB) - x(kpA)).attr('height', bottom - top)
    .attr('fill', 'none').attr('stroke', '#000').attr('stroke-width', 4).attr('stroke-dasharray', '4,4');
}
function blackArrow(xx, y0, y1) {
  svg.append('line').attr('x1', xx).attr('x2', xx).attr('y1', y0).attr('y2', y1 - 10).attr('stroke', '#000').attr('stroke-width', 1.6);
  svg.append('path').attr('d', `M${xx - 6},${y1 - 12}L${xx + 6},${y1 - 12}L${xx},${y1}Z`).attr('fill', '#000');
}
function callout(fromX, fromY, kp, v, yScale, lineColor, dotColor) {
  svg.append('line').attr('x1', fromX).attr('y1', fromY).attr('x2', x(kp)).attr('y2', yScale(v))
    .attr('stroke', lineColor).attr('stroke-width', 2);
  svg.append('circle').attr('cx', x(kp)).attr('cy', yScale(v)).attr('r', 5).attr('fill', dotColor);
}

// panel 2
label('駅裏整備（H20・H21施工：KP3.6～4.2）', 93, 364, 23, '#000', 419);
label('河道整正（H20・H21施工：KP13.4～15.6）', 587, 357, 23, '#000', 448);
blackArrow(218, 387, 419);
blackArrow(705, 392, 419);
[panels[1], panels[2]].forEach((p) => {
  dottedBox(3.41, 4.15, p.top - 3, p.bottom + 5);
  dottedBox(13.24, 15.69, p.top - 3, p.bottom + 5);
});

// panel 3
const y3 = yScales[2];
callout(317, 757, 7.29, 104, y3, '#ff00ff', '#ff00ff');
callout(589, 751, 10.32, 73, y3, '#00b0f0', '#00b0f0');
callout(598, 751, 10.89, 75, y3, '#00b0f0', '#00b0f0');
callout(870, 1068, 16.62, -70, y3, '#00b0f0', '#00b0f0');
callout(1234, 745, 25.12, 121, y3, '#ff0000', '#ff0000');

svg.append('g').selectAll('path').data(upArrows).join('path')
  .attr('d', (d) => { const cx = x(d[0]), ty = y3(d[1]); return `M${cx},${ty}L${cx + 8},${ty + 11}L${cx + 3},${ty + 11}L${cx + 3},${ty + 25}L${cx - 3},${ty + 25}L${cx - 3},${ty + 11}L${cx - 8},${ty + 11}Z`; })
  .attr('fill', '#ff0000');
svg.append('g').selectAll('path').data(downArrows).join('path')
  .attr('d', (d) => { const cx = x(d[0]), ty = y3(d[1]); return `M${cx},${ty}L${cx + 8},${ty - 11}L${cx + 3},${ty - 11}L${cx + 3},${ty - 24}L${cx - 3},${ty - 24}L${cx - 3},${ty - 11}L${cx - 8},${ty - 11}Z`; })
  .attr('fill', '#ff0000');

label('護岸損傷（KP7.4R）', 173, 733, 23, '#ff00ff', 212);
label('（H28出水）', 173, 765, 23, '#ff00ff', 122);
label('水衝部延伸', 528, 737, 24, '#0070c0', 132);
label('水衝部延伸', 827, 1088, 23, '#0070c0', 131);
label('横方向への移動', 507, 1085, 26, '#ff0000', 204);
label('横方向への移動', 1290, 822, 26, '#ff0000', 205);
label('河岸侵食（KP25.3R）（H30出水）', 1068, 728, 23, '#ff0000', 349);
label('※澪筋位置は空中写真より縦断方向20mピッチでプロット', 1018, 1086, 19, '#000', 510);
label(')', 1, 866, 22, '#000');
</script>
</body>
</html>
